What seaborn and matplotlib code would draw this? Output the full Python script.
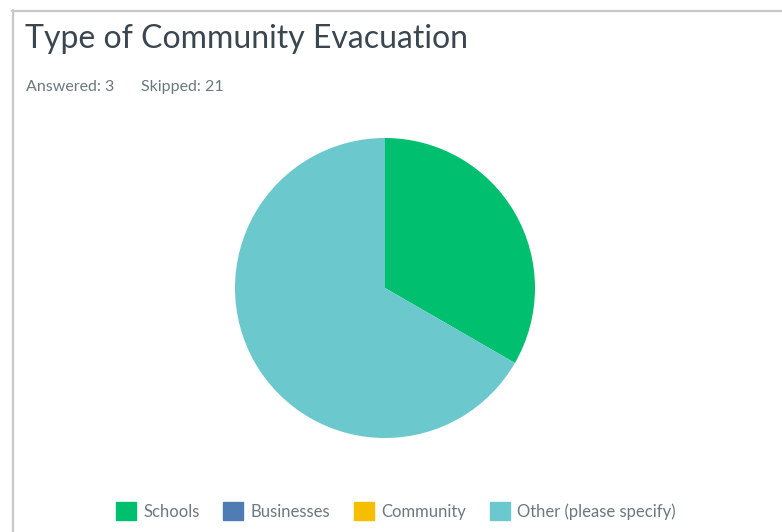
import matplotlib
matplotlib.use("Agg")
import matplotlib.pyplot as plt
from matplotlib.lines import Line2D
from matplotlib.patches import Patch
import seaborn as sns

categories = ["Schools", "Businesses", "Community", "Other (please specify)"]
responses = [1, 0, 0, 2]
colors = ["#00bf6f", "#507cb6", "#f6be00", "#6bc8cd"]
title = "Type of Community Evacuation"
answered = 3
skipped = 21

sns.set_theme(style="white")
plt.rcParams["font.family"] = ["Lato", "DejaVu Sans"]

W, H = 782, 532
fig = plt.figure(figsize=(W / 100, H / 100), dpi=100)
fig.patch.set_facecolor("white")

def fx(px):
    return px / W

def fy(py):
    return 1 - py / H

# card border (left and top edges)
border = "#c8c8c8"
fig.add_artist(Line2D([fx(12.5), fx(12.5)], [fy(10), fy(H + 5)], color=border, lw=1.6,
                      transform=fig.transFigure))
fig.add_artist(Line2D([fx(12), fx(W + 5)], [fy(10.5), fy(10.5)], color=border, lw=1.6,
                      transform=fig.transFigure))

fig.text(fx(25), fy(48), title, fontsize=23, color="#3a4650", fontweight="normal",
         va="baseline", ha="left")
fig.text(fx(26), fy(91), f"Answered: {answered}", fontsize=11.5, color="#6b787f",
         va="baseline", ha="left")
fig.text(fx(141), fy(91), f"Skipped: {skipped}", fontsize=11.5, color="#6b787f",
         va="baseline", ha="left")

cx, cy, r = 385, 288, 150
ax = fig.add_axes([fx(cx - r), fy(cy + r), (2 * r) / W, (2 * r) / H])
ax.pie(responses, colors=colors, startangle=90, counterclock=False,
       wedgeprops=dict(linewidth=0))
ax.set_xlim(-1, 1)
ax.set_ylim(-1, 1)
ax.axis("off")

handles = [Patch(facecolor=c, edgecolor=c, label=l) for c, l in zip(colors, categories)]
leg = fig.legend(handles=handles, loc="center", bbox_to_anchor=(fx(396), fy(511)),
                 ncol=4, frameon=False, fontsize=12, handlelength=1.2, handleheight=1.2,
                 handletextpad=0.45, columnspacing=1.4, labelcolor="#6b787f")

fig.savefig("out.png", dpi=100, facecolor="white")
